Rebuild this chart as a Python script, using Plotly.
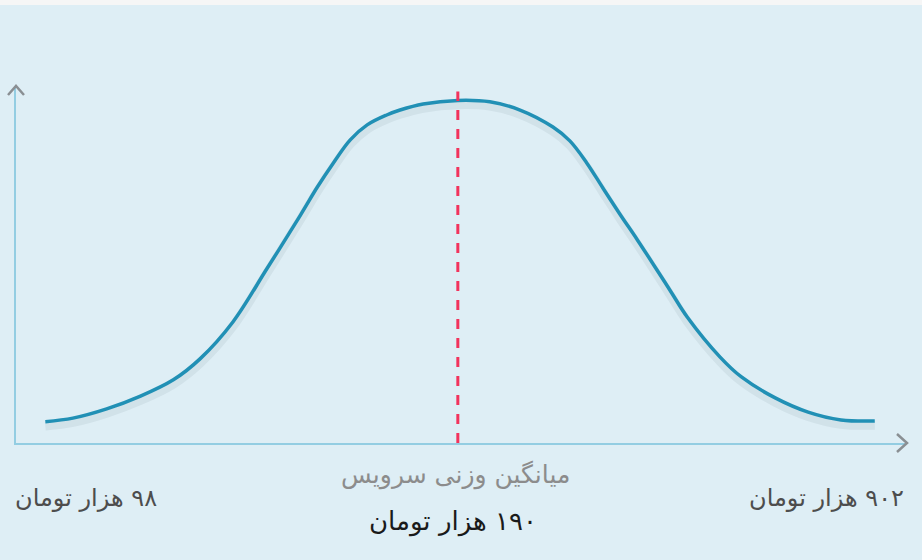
import plotly.graph_objects as go

# Curve (x: position along axis 0-100, y: relative height 0-100)
x_pos = [3.3, 6.4, 10.2, 14.0, 17.7, 20.7, 24.4, 28.2, 32.0, 33.9, 35.7, 37.6, 39.5, 41.7,
         43.2, 45.8, 49.7, 53.3, 56.7, 60.4, 62.3, 64.2, 66.0, 67.9, 69.9, 71.7, 73.6,
         75.5, 79.2, 81.6, 85.4, 89.1, 92.8, 96.6]
density = [6.0, 7.0, 9.6, 13.2, 17.8, 23.7, 34.1, 49.0, 64.2, 72.1, 78.9, 85.4, 89.6, 92.4,
           93.8, 95.5, 96.5, 96.1, 93.8, 89.0, 85.1, 78.9, 71.9, 64.6, 57.2, 50.3, 42.9,
           35.5, 24.2, 18.6, 12.7, 8.7, 6.5, 6.2]

mean_pos = 49.7
mean_top = 99

mean_caption = "میانگین وزنی سرویس"
mean_label = "۱۹۰ هزار تومان"
min_label = "۹۸ هزار تومان"
max_label = "۹۰۲ هزار تومان"

bg = "#deeef5"
axis_blue = "#93cde2"
arrow_gray = "#8a8f93"


def rtl(s):
    # right-to-left embedding so the digits land on the right, as in Persian
    return "\u202b" + s + "\u202c"


fig = go.Figure()

# faint shadow under the curve
fig.add_trace(go.Scatter(x=x_pos, y=[v - 1.2 for v in density], mode="lines",
                         line=dict(color="rgba(40,70,90,0.07)", width=9, shape="spline"),
                         hoverinfo="skip"))
fig.add_trace(go.Scatter(x=x_pos, y=density, mode="lines",
                         line=dict(color="#2190b5", width=3.5, shape="spline"),
                         hoverinfo="skip"))
fig.add_trace(go.Scatter(x=[mean_pos, mean_pos], y=[0, mean_top], mode="lines",
                         line=dict(color="#f2335c", width=3, dash="10px,9px"),
                         hoverinfo="skip"))

# arrow heads at the axis ends (paper refs so they are not clipped)
fig.add_shape(type="path", xref="paper", yref="paper", xsizemode="pixel", ysizemode="pixel",
              xanchor=0, yanchor=1, path="M-8,-7 L0,2 L8,-7",
              line=dict(color=arrow_gray, width=2.5))
fig.add_shape(type="path", xref="paper", yref="paper", xsizemode="pixel", ysizemode="pixel",
              xanchor=1, yanchor=0, path="M-8,9 L2,0 L-8,-9",
              line=dict(color=arrow_gray, width=2.5))

# thin light strip at the very top
fig.add_shape(type="rect", xref="paper", yref="paper", x0=-0.1, x1=1.1,
              y0=1 + 83 / 355, y1=1.4, fillcolor="#f6f6f6", line_width=0, layer="below")

font = "DejaVu Sans, sans-serif"


def label(text, px, py, size, color):
    fig.add_annotation(x=(px - 16) / 889, y=(443 - py) / 355, xref="paper", yref="paper",
                       xanchor="center", yanchor="middle", text=rtl(text), showarrow=False,
                       font=dict(family=font, size=size, color=color))


label(mean_caption, 455, 475, 25, "#8c8c8c")
label(mean_label, 453, 521, 26, "#1a1a1a")
label(min_label, 86, 498, 24, "#4d4d4d")
label(max_label, 826, 498, 24, "#4d4d4d")

fig.update_xaxes(range=[0, 100], showgrid=False, zeroline=False, showticklabels=False,
                 showline=True, linecolor=axis_blue, linewidth=2, fixedrange=True)
fig.update_yaxes(range=[0, 100], showgrid=False, zeroline=False, showticklabels=False,
                 showline=True, linecolor=axis_blue, linewidth=2, fixedrange=True)

fig.update_layout(
    width=922, height=560,
    margin=dict(l=16, r=17, t=88, b=117),
    paper_bgcolor=bg, plot_bgcolor=bg,
    showlegend=False,
)

fig.write_html("out.html", config={"displayModeBar": False},
               post_script="document.body.style.margin='0';")
